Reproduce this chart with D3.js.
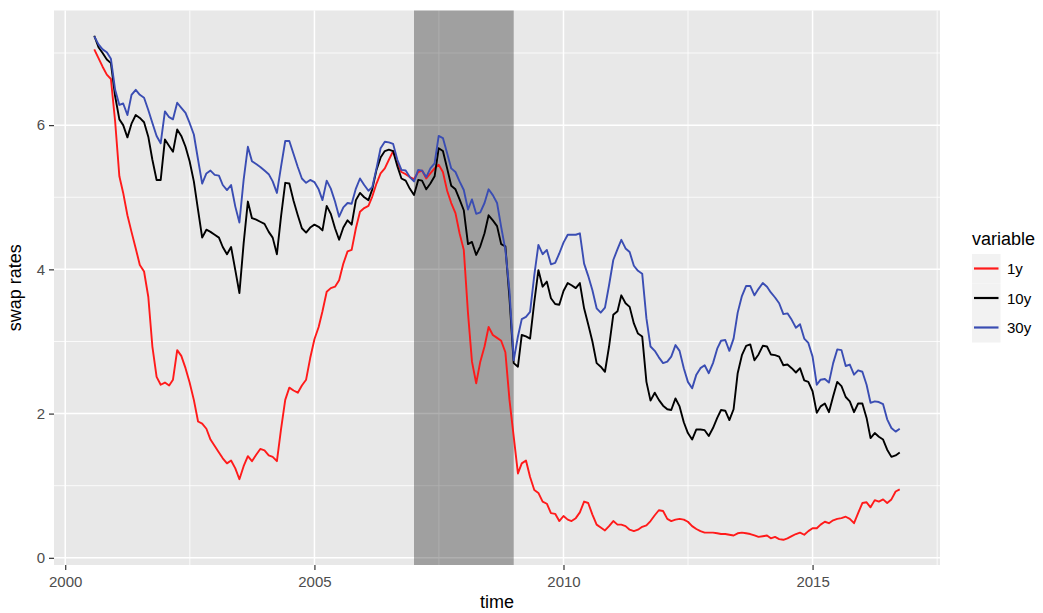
<!DOCTYPE html>
<html>
<head>
<meta charset="utf-8">
<script src="https://cdn.jsdelivr.net/npm/d3@7"></script>
<style>
  body { margin: 0; background: #fff; }
  svg text { font-family: "Liberation Sans", Arial, sans-serif; }
</style>
</head>
<body>
<svg id="chart" width="1043" height="613"></svg>
<script>
// monthly observations, Aug 2000 .. Oct 2016
const months = d3.timeMonth.range(new Date(2000, 7, 1), new Date(2016, 10, 1));

const rate1y = [
  7.05, 6.93, 6.81, 6.70, 6.64, 6.05, 5.29, 5.06, 4.75, 4.52,
  4.29, 4.06, 3.97, 3.62, 2.93, 2.51, 2.40, 2.43, 2.39, 2.47,
  2.88, 2.80, 2.63, 2.43, 2.19, 1.89, 1.86, 1.79, 1.64, 1.55,
  1.46, 1.38, 1.31, 1.35, 1.24, 1.09, 1.27, 1.41, 1.34, 1.43,
  1.51, 1.49, 1.42, 1.40, 1.34, 1.78, 2.19, 2.36, 2.32, 2.29,
  2.39, 2.47, 2.77, 3.03, 3.20, 3.42, 3.69, 3.74, 3.76, 3.85,
  4.08, 4.25, 4.27, 4.57, 4.80, 4.85, 4.88, 5.01, 5.19, 5.33,
  5.40, 5.52, 5.64, 5.48, 5.35, 5.32, 5.28, 5.25, 5.35, 5.37,
  5.26, 5.33, 5.40, 5.45, 5.35, 5.09, 4.92, 4.78, 4.50, 4.27,
  3.39, 2.72, 2.42, 2.72, 2.93, 3.20, 3.09, 3.05, 3.01, 2.85,
  2.19, 1.68, 1.17, 1.31, 1.35, 1.12, 0.94, 0.90, 0.78, 0.75,
  0.62, 0.61, 0.51, 0.58, 0.53, 0.51, 0.55, 0.63, 0.78, 0.76,
  0.60, 0.46, 0.42, 0.38, 0.44, 0.51, 0.46, 0.46, 0.44, 0.39,
  0.37, 0.39, 0.43, 0.45, 0.51, 0.59, 0.66, 0.65, 0.54, 0.51,
  0.53, 0.54, 0.53, 0.50, 0.44, 0.40, 0.37, 0.35, 0.35, 0.35,
  0.34, 0.33, 0.33, 0.32, 0.31, 0.34, 0.35, 0.34, 0.33, 0.31,
  0.29, 0.30, 0.31, 0.27, 0.29, 0.26, 0.25, 0.27, 0.30, 0.33,
  0.35, 0.32, 0.37, 0.41, 0.41, 0.46, 0.50, 0.48, 0.52, 0.54,
  0.55, 0.57, 0.54, 0.48, 0.62, 0.76, 0.77, 0.70, 0.80, 0.78,
  0.81, 0.76, 0.81, 0.92, 0.95
];

const rate10y = [
  7.24, 7.08, 7.00, 6.91, 6.86, 6.40, 6.08, 6.00, 5.83, 6.02,
  6.14, 6.10, 6.04, 5.84, 5.52, 5.24, 5.24, 5.80, 5.71, 5.63,
  5.94, 5.85, 5.70, 5.50, 5.22, 4.82, 4.44, 4.55, 4.52, 4.48,
  4.44, 4.31, 4.21, 4.31, 3.99, 3.67, 4.36, 4.94, 4.71, 4.69,
  4.66, 4.63, 4.52, 4.44, 4.21, 4.73, 5.20, 5.19, 4.95, 4.75,
  4.57, 4.51, 4.58, 4.62, 4.59, 4.54, 4.88, 4.77, 4.57, 4.41,
  4.58, 4.68, 4.62, 4.96, 5.06, 5.00, 4.96, 5.11, 5.38, 5.55,
  5.64, 5.66, 5.64, 5.43, 5.26, 5.23, 5.12, 5.03, 5.24, 5.23,
  5.11, 5.19, 5.29, 5.68, 5.64, 5.40, 5.16, 5.11, 4.97, 4.82,
  4.35, 4.38, 4.20, 4.32, 4.50, 4.75, 4.68, 4.60, 4.35, 4.32,
  3.60, 2.70, 2.65, 3.09, 3.07, 3.04, 3.55, 3.99, 3.76, 3.83,
  3.60, 3.52, 3.51, 3.70, 3.81, 3.78, 3.74, 3.81, 3.46, 3.24,
  3.00, 2.70, 2.65, 2.58, 2.93, 3.37, 3.42, 3.64, 3.53, 3.48,
  3.25, 3.11, 3.07, 2.44, 2.18, 2.29, 2.19, 2.11, 2.06, 2.05,
  2.21, 2.10, 1.88, 1.73, 1.64, 1.78, 1.78, 1.77, 1.69, 1.80,
  1.94, 2.05, 2.04, 1.91, 2.06, 2.56, 2.81, 2.94, 2.96, 2.74,
  2.82, 2.94, 2.93, 2.82, 2.81, 2.79, 2.67, 2.68, 2.63, 2.57,
  2.63, 2.46, 2.44, 2.31, 2.01, 2.10, 2.14, 2.02, 2.24, 2.44,
  2.38, 2.23, 2.17, 2.02, 2.14, 2.14, 1.94, 1.66, 1.73, 1.68,
  1.64, 1.50, 1.40, 1.42, 1.46
];

const rate30y = [
  7.23, 7.12, 7.05, 7.01, 6.92, 6.49, 6.28, 6.30, 6.14, 6.42,
  6.49, 6.42, 6.38, 6.21, 6.03, 5.85, 5.75, 6.19, 6.11, 6.08,
  6.31, 6.24, 6.17, 6.03, 5.87, 5.52, 5.19, 5.33, 5.37, 5.31,
  5.30, 5.17, 5.10, 5.17, 4.87, 4.65, 5.24, 5.70, 5.50, 5.46,
  5.42, 5.37, 5.32, 5.22, 5.06, 5.42, 5.78, 5.78, 5.60, 5.42,
  5.26, 5.20, 5.24, 5.21, 5.11, 4.96, 5.23, 5.12, 4.94, 4.73,
  4.86, 4.92, 4.91, 5.12, 5.26, 5.17, 5.09, 5.14, 5.40, 5.68,
  5.77, 5.76, 5.74, 5.52, 5.38, 5.37, 5.28, 5.22, 5.38, 5.37,
  5.28, 5.40, 5.47, 5.85, 5.82, 5.61, 5.40, 5.35, 5.22, 5.10,
  4.83, 4.97, 4.77, 4.79, 4.92, 5.11, 5.03, 4.92, 4.59, 4.27,
  3.70, 2.74, 3.07, 3.31, 3.34, 3.41, 3.92, 4.34, 4.21, 4.27,
  4.07, 4.09, 4.22, 4.37, 4.48, 4.48, 4.48, 4.50, 4.08, 3.91,
  3.71, 3.46, 3.40, 3.47, 3.78, 4.13, 4.28, 4.41, 4.29, 4.24,
  4.05, 3.98, 3.94, 3.32, 2.93, 2.87, 2.78, 2.70, 2.72, 2.79,
  2.95, 2.87, 2.63, 2.44, 2.35, 2.54, 2.63, 2.67, 2.56, 2.70,
  2.90, 3.01, 3.02, 2.87, 3.04, 3.40, 3.63, 3.77, 3.77, 3.64,
  3.73, 3.81, 3.76, 3.68, 3.61, 3.53, 3.38, 3.39, 3.30, 3.19,
  3.24, 3.04, 2.98, 2.79, 2.40, 2.47, 2.48, 2.43, 2.70, 2.89,
  2.88, 2.66, 2.68, 2.54, 2.60, 2.58, 2.40, 2.15, 2.17, 2.16,
  2.13, 1.92, 1.80, 1.75, 1.79
];

const seriesNames = ['1y', '10y', '30y'];
const seriesColors = ['#ff1a1a', '#000000', '#3a4db3'];
const recession = [new Date(2007, 0, 1), new Date(2009, 0, 1)];
const yTicks = [0, 2, 4, 6];
const yMinor = [1, 3, 5, 7];
const xTicks = [2000, 2005, 2010, 2015];
const xMinor = [2002.5, 2007.5, 2012.5, 2017.5];

const panel = { left: 54, right: 940, top: 10.5, bottom: 565 };
const svg = d3.select('#chart');

const series = seriesNames.map((name, k) => ({
  name,
  color: seriesColors[k],
  values: [rate1y, rate10y, rate30y][k].map((v, i) => ({ date: months[i], v }))
}));

// ggplot style 5% expansion on both axes
const xExt = d3.extent(months);
const xPad = (xExt[1] - xExt[0]) * 0.05;
const x = d3.scaleTime()
  .domain([new Date(+xExt[0] - xPad), new Date(+xExt[1] + xPad)])
  .range([panel.left, panel.right]);

const allVals = rate1y.concat(rate10y, rate30y);
const yExt = d3.extent(allVals);
const yPad = (yExt[1] - yExt[0]) * 0.05;
const y = d3.scaleLinear()
  .domain([yExt[0] - yPad, yExt[1] + yPad])
  .range([panel.bottom, panel.top]);

const yearDate = yr => {
  const whole = Math.floor(yr);
  const start = new Date(whole, 0, 1);
  const end = new Date(whole + 1, 0, 1);
  return new Date(+start + (yr - whole) * (end - start));
};

// panel background
svg.append('rect')
  .attr('x', panel.left)
  .attr('y', panel.top)
  .attr('width', panel.right - panel.left)
  .attr('height', panel.bottom - panel.top)
  .attr('fill', '#e8e8e8');

const grid = svg.append('g').attr('stroke', '#fff');

grid.selectAll('.ymin')
  .data(yMinor)
  .enter()
  .append('line')
  .attr('x1', panel.left).attr('x2', panel.right)
  .attr('y1', d => y(d)).attr('y2', d => y(d))
  .attr('stroke-width', 0.8);

grid.selectAll('.xmin')
  .data(xMinor)
  .enter()
  .append('line')
  .attr('y1', panel.top).attr('y2', panel.bottom)
  .attr('x1', d => x(yearDate(d))).attr('x2', d => x(yearDate(d)))
  .attr('stroke-width', 0.8);

grid.selectAll('.ymaj')
  .data(yTicks)
  .enter()
  .append('line')
  .attr('x1', panel.left).attr('x2', panel.right)
  .attr('y1', d => y(d)).attr('y2', d => y(d))
  .attr('stroke-width', 1.5);

grid.selectAll('.xmaj')
  .data(xTicks)
  .enter()
  .append('line')
  .attr('y1', panel.top).attr('y2', panel.bottom)
  .attr('x1', d => x(yearDate(d))).attr('x2', d => x(yearDate(d)))
  .attr('stroke-width', 1.5);

// recession shading
svg.append('rect')
  .attr('x', x(recession[0]))
  .attr('y', panel.top)
  .attr('width', x(recession[1]) - x(recession[0]))
  .attr('height', panel.bottom - panel.top)
  .attr('fill', '#000')
  .attr('fill-opacity', 0.31);

const line = d3.line()
  .x(d => x(d.date))
  .y(d => y(d.v));

svg.append('g')
  .selectAll('path')
  .data(series)
  .enter()
  .append('path')
  .attr('d', d => line(d.values))
  .attr('fill', 'none')
  .attr('stroke', d => d.color)
  .attr('stroke-width', 1.9)
  .attr('stroke-linejoin', 'round');

// axes
const yAxis = d3.axisLeft(y)
  .tickValues(yTicks)
  .tickSize(5)
  .tickPadding(4)
  .tickFormat(d3.format('d'));
svg.append('g')
  .attr('transform', `translate(${panel.left}, 0)`)
  .call(yAxis)
  .call(g => g.select('.domain').remove())
  .call(g => g.selectAll('line').attr('stroke', '#333').attr('stroke-width', 1.2))
  .call(g => g.selectAll('text')
    .attr('fill', '#4d4d4d')
    .style('font-size', '15px'));

const xAxis = d3.axisBottom(x)
  .tickValues(xTicks.map(yearDate))
  .tickSize(5)
  .tickPadding(6)
  .tickFormat(d3.timeFormat('%Y'));
svg.append('g')
  .attr('transform', `translate(0, ${panel.bottom})`)
  .call(xAxis)
  .call(g => g.select('.domain').remove())
  .call(g => g.selectAll('line').attr('stroke', '#333').attr('stroke-width', 1.2))
  .call(g => g.selectAll('text')
    .attr('fill', '#4d4d4d')
    .style('font-size', '15px'));

svg.append('text')
  .attr('x', (panel.left + panel.right) / 2)
  .attr('y', 608)
  .attr('text-anchor', 'middle')
  .style('font-size', '18px')
  .text('time');

svg.append('text')
  .attr('transform', `translate(21, ${(panel.top + panel.bottom) / 2}) rotate(-90)`)
  .attr('text-anchor', 'middle')
  .style('font-size', '18px')
  .text('swap rates');

// legend
const legend = svg.append('g').attr('transform', 'translate(972, 254)');
legend.append('text')
  .attr('x', 0)
  .attr('y', -9)
  .style('font-size', '18px')
  .text('variable');

const keys = legend.selectAll('g')
  .data(series)
  .enter()
  .append('g')
  .attr('transform', (_, i) => `translate(0, ${i * 29.5})`);

keys.append('rect')
  .attr('width', 28.5)
  .attr('height', 29.5)
  .attr('fill', '#f2f2f2');

keys.append('line')
  .attr('x1', 2).attr('x2', 26.5)
  .attr('y1', 14.5).attr('y2', 14.5)
  .attr('stroke', d => d.color)
  .attr('stroke-width', 2.2);

keys.append('text')
  .attr('x', 35)
  .attr('y', 14.75)
  .attr('dy', '0.35em')
  .style('font-size', '15px')
  .text(d => d.name);
</script>
</body>
</html>
